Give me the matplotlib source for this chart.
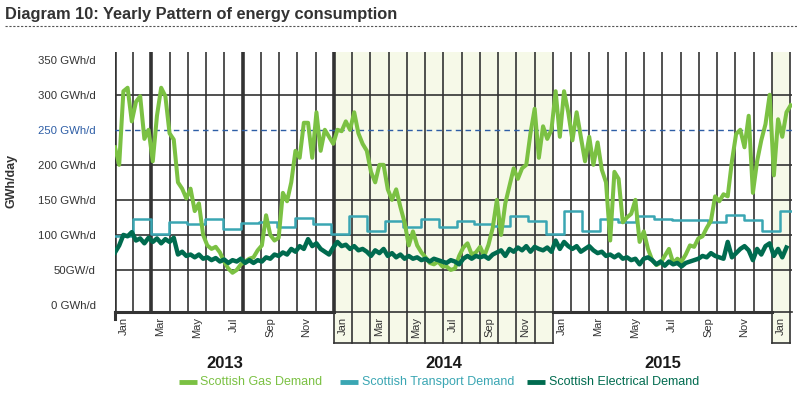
import numpy as np
import matplotlib
matplotlib.use("Agg")
import matplotlib.pyplot as plt
import matplotlib.transforms as mtransforms
from matplotlib.patches import Rectangle
from matplotlib.lines import Line2D

# weekly readings from 1 Jan 2013 (GWh/day)
gas = [225, 200, 305, 310, 262, 290, 298, 237, 250, 205, 270, 310, 298, 245, 236, 175, 166, 152, 166, 134,
       145, 100, 85, 80, 83, 75, 62, 52, 46, 50, 58, 62, 66,
       68, 78, 85, 128, 100, 92, 96, 160, 148, 175, 220, 210, 260, 260, 210, 275, 220, 250, 240, 230,
       250, 248, 262, 250, 275, 245, 230, 220, 190, 175, 200,
       200,
       165, 150, 165, 140, 118, 85, 105, 85, 75, 68, 60, 58, 62, 55, 55, 50, 52, 70, 82, 88,
       72, 75, 83, 70, 86, 110, 150, 100, 145, 170, 195,
       180,
       195, 200, 245, 280, 210, 255, 237, 250, 305, 240, 305, 275, 235, 275, 240, 205, 240, 200, 232, 193,
       175, 92, 190, 180, 118, 125, 130, 150, 90, 105, 80,
       64,
       57, 60, 70, 80, 60, 66, 62, 72, 85, 83, 95, 98, 110, 120, 155, 148, 158, 155, 205, 244,
       250, 225, 270, 160, 205, 235, 258, 300, 185, 265, 240, 275, 285]

electrical = [75, 85, 100, 98, 104, 92, 95, 88, 96, 90, 95, 88, 94, 90, 96, 72, 76, 70, 72, 68, 72, 66, 68,
              64, 67, 62, 65, 60, 64, 62, 66, 60, 64,
              60, 64, 62, 68, 66, 72, 70, 75, 72, 80, 76, 84, 80, 94, 84, 88, 80, 76, 72, 82, 90, 84,
              86, 80, 84, 78, 80, 76, 70, 78, 74, 80,
              70, 74, 68, 72, 66, 70, 66, 68, 64, 66, 62, 66, 64, 62, 60, 64, 62, 58, 66, 70, 66, 70,
              68, 70, 66, 72, 75, 78, 70, 80, 76, 82,
              78, 84, 76, 83, 80, 78, 82, 76, 92, 80, 90, 84, 80, 84, 76, 80, 84, 78, 74, 76, 70, 72,
              68, 72, 66, 68, 64, 66, 58, 66, 68, 64,
              58, 62, 56, 62, 58, 60, 55, 60, 62, 64, 66, 70, 68, 74, 70, 68, 66, 90, 68, 74, 80, 84,
              78, 64, 80, 72, 84, 88, 70, 80, 68, 82]

# monthly values Jan 2013 .. Feb 2016
transport = [98, 123, 101, 119, 115, 123, 108, 117, 118, 111, 124, 116,
             101, 127, 106, 120, 111, 123, 111, 120, 116, 113, 127, 120,
             101, 134, 106, 123, 118, 127, 122, 121, 121, 119, 128, 121,
             106, 134]

month_names = ['Jan', 'Feb', 'Mar', 'Apr', 'May', 'Jun', 'Jul', 'Aug', 'Sep', 'Oct', 'Nov', 'Dec']
years = ['2013', '2014', '2015']
ytick_vals = [0, 50, 100, 150, 200, 250, 300, 350]
ytick_text = ['0 GWh/d', '50GW/d', '100 GWh/d', '150 GWh/d', '200 GWh/d', '250 GWh/d', '300 GWh/d', '350 GWh/d']

GAS_C = '#7bc143'
TRANS_C = '#3aa6b3'
ELEC_C = '#006b4f'
GRID_C = '#333333'
SHADE_C = '#f6f9e8'
TXT_C = '#333333'

fig = plt.figure(figsize=(7.97, 3.95), dpi=100)
ax = fig.add_axes([115 / 797, 1 - 312 / 395, 677 / 797, 260 / 395])
ax.set_xlim(0, 37.1)
ax.set_ylim(-10, 361)
for s in ax.spines.values():
    s.set_visible(False)

trans = mtransforms.blended_transform_factory(ax.transData, ax.transAxes)
lab_h = 31 / 260  # depth of the label boxes below the axis

# shaded 2014 and Jan 2016 columns (running down into the label area)
for x0, x1 in [(12, 24), (36, 37)]:
    ax.add_patch(Rectangle((x0, -lab_h), x1 - x0, 1 + lab_h, transform=trans, facecolor=SHADE_C,
                           edgecolor='none', clip_on=False, zorder=0))
    ax.plot([x0, x1], [-lab_h, -lab_h], transform=trans, color=GRID_C, lw=1.2, clip_on=False, zorder=1)
    for m in range(x0, x1 + 1):
        ax.plot([m, m], [-lab_h, 0], transform=trans, color=GRID_C, lw=1.2, clip_on=False, zorder=1)

# grid
for m in range(38):
    lw = 2.6 if m in (0, 2, 7, 12) else 1.2
    ax.axvline(m, color=GRID_C, lw=lw, zorder=1)
for v in [50, 100, 150, 200, 300]:
    ax.axhline(v, color=GRID_C, lw=1.2, zorder=1)
ax.axhline(250, color='#2e5ea6', lw=1, ls=(0, (4, 3)), zorder=1)
ax.plot([0, 12], [0, 0], transform=trans, color=GRID_C, lw=2.2, clip_on=False, zorder=2)
ax.plot([12, 24], [0, 0], transform=trans, color=GRID_C, lw=1.2, clip_on=False, zorder=2)
ax.plot([24, 36], [0, 0], transform=trans, color=GRID_C, lw=2.2, clip_on=False, zorder=2)
ax.plot([36, 37.1], [0, 0], transform=trans, color=GRID_C, lw=1.2, clip_on=False, zorder=2)
ax.plot([0, 0], [-0.025, 0], transform=trans, color=GRID_C, lw=2.2, clip_on=False, zorder=2)

# data
wk = np.arange(len(gas)) * 7 * 12 / 365.25
we = np.arange(len(electrical)) * 7 * 12 / 365.25
tm = np.arange(len(transport)) * 0.985
tm = np.append(tm, 37.1)
tv = transport + [transport[-1]]
ax.step(tm, tv, where='post', color=TRANS_C, lw=1.8, zorder=3)
ax.plot(wk, gas, color=GAS_C, lw=2.9, zorder=4)
ax.plot(we, electrical, color=ELEC_C, lw=3.2, zorder=5)

# y ticks
ax.set_xticks([])
ax.set_yticks(ytick_vals)
ax.set_yticklabels(ytick_text, fontsize=8.2, family='Liberation Sans', color=TXT_C)
ax.tick_params(axis='y', length=0, pad=14)
ax.get_yticklabels()[5].set_color('#2e5ea6')

# month labels
for m in range(0, 37, 2):
    ax.text(m + 0.5, -0.02, month_names[m % 12], transform=trans, rotation=90, ha='center', va='top',
            fontsize=8, family='Liberation Sans', color=TXT_C)
for i, y in enumerate(years):
    ax.text(6 + 12 * i, -0.2, y, transform=trans, ha='center', va='center', fontsize=12,
            fontweight='bold', family='Liberation Sans', color='#1a1a1a')

fig.text(12 / 797, 1 - 181 / 395, 'GWh/day', rotation=90, ha='center', va='center', fontsize=9,
         fontweight='bold', family='Liberation Sans', color=TXT_C)

# title and dotted rule
fig.text(5 / 797, 1 - 14 / 395, 'Diagram 10: Yearly Pattern of energy consumption', ha='left', va='center',
         fontsize=11.8, fontweight='bold', family='Liberation Sans', color=TXT_C)
fig.add_artist(Line2D([5 / 797, 1], [1 - 26 / 395] * 2, color='#555555', lw=0.8, ls=(0, (2, 1.5))))

# legend
legend = [('Scottish Gas Demand', GAS_C, 179, 200),
          ('Scottish Transport Demand', TRANS_C, 340, 362),
          ('Scottish Electrical Demand', ELEC_C, 527, 549)]
ly = 1 - 382 / 395
for label, c, x0, xt in legend:
    fig.add_artist(Line2D([x0 / 797, (x0 + 18) / 797], [ly, ly], color=c, lw=3.5, solid_capstyle='butt'))
    fig.text(xt / 797, ly, label, ha='left', va='center', fontsize=9, family='Liberation Sans', color=c)

fig.savefig('out.png', dpi=100, facecolor='white')
